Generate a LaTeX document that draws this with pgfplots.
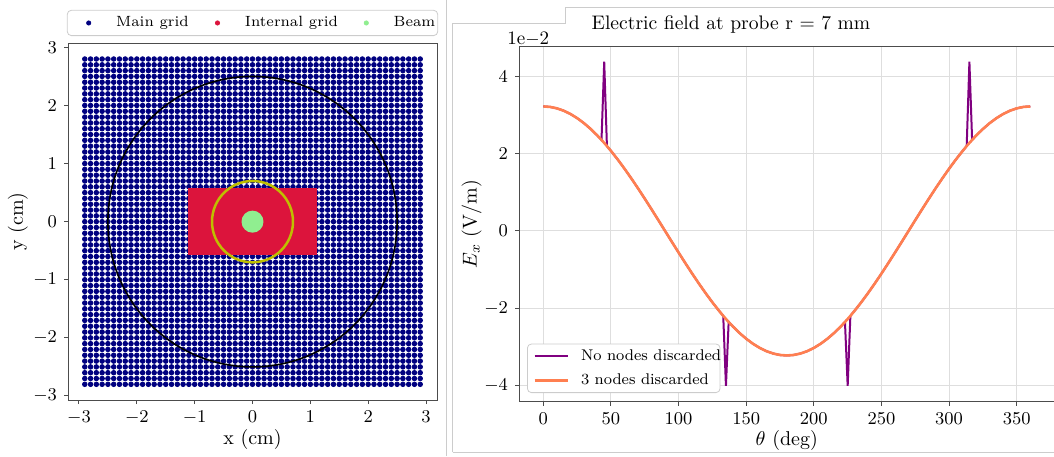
\documentclass[border=0pt]{standalone}
\usepackage{pgfplots}
\pgfplotsset{compat=1.18}
\usepackage{pgfplotstable}

\definecolor{navyc}{HTML}{000080}
\definecolor{crimsonc}{HTML}{DC143C}
\definecolor{beamc}{HTML}{90EE90}
\definecolor{probec}{HTML}{BFBF00}
\definecolor{purplec}{HTML}{800080}
\definecolor{coralc}{HTML}{FF7F50}

% x positions of the main grid nodes (cm)
\pgfplotstableread{
x
-2.9
-2.8
-2.7
-2.6
-2.5
-2.4
-2.3
-2.2
-2.1
-2.0
-1.9
-1.8
-1.7
-1.6
-1.5
-1.4
-1.3
-1.2
-1.1
-1.0
-0.9
-0.8
-0.7
-0.6
-0.5
-0.4
-0.3
-0.2
-0.1
0.0
0.1
0.2
0.3
0.4
0.5
0.6
0.7
0.8
0.9
1.0
1.1
1.2
1.3
1.4
1.5
1.6
1.7
1.8
1.9
2.0
2.1
2.2
2.3
2.4
2.5
2.6
2.7
2.8
2.9
}\mainx

% Electric field at probe (units of 1e-2 V/m)
\pgfplotstableread{
theta nod dis
0 3.230 3.230
5 3.218 3.218
10 3.181 3.181
15 3.120 3.120
20 3.035 3.035
25 2.927 2.927
30 2.797 2.797
35 2.646 2.646
40 2.474 2.474
43 2.362 2.362
45 4.390 2.284
47 2.203 2.203
50 2.076 2.076
55 1.853 1.853
60 1.615 1.615
65 1.365 1.365
70 1.105 1.105
75 0.836 0.836
80 0.561 0.561
85 0.282 0.282
90 0.000 0.000
95 -0.282 -0.282
100 -0.561 -0.561
105 -0.836 -0.836
110 -1.105 -1.105
115 -1.365 -1.365
120 -1.615 -1.615
125 -1.853 -1.853
130 -2.076 -2.076
133 -2.203 -2.203
135 -4.020 -2.284
137 -2.362 -2.362
140 -2.474 -2.474
145 -2.646 -2.646
150 -2.797 -2.797
155 -2.927 -2.927
160 -3.035 -3.035
165 -3.120 -3.120
170 -3.181 -3.181
175 -3.218 -3.218
180 -3.230 -3.230
185 -3.218 -3.218
190 -3.181 -3.181
195 -3.120 -3.120
200 -3.035 -3.035
205 -2.927 -2.927
210 -2.797 -2.797
215 -2.646 -2.646
220 -2.474 -2.474
223 -2.362 -2.362
225 -4.020 -2.284
227 -2.203 -2.203
230 -2.076 -2.076
235 -1.853 -1.853
240 -1.615 -1.615
245 -1.365 -1.365
250 -1.105 -1.105
255 -0.836 -0.836
260 -0.561 -0.561
265 -0.282 -0.282
270 0.000 0.000
275 0.282 0.282
280 0.561 0.561
285 0.836 0.836
290 1.105 1.105
295 1.365 1.365
300 1.615 1.615
305 1.853 1.853
310 2.076 2.076
313 2.203 2.203
315 4.390 2.284
317 2.362 2.362
320 2.474 2.474
325 2.646 2.646
330 2.797 2.797
335 2.927 2.927
340 3.035 3.035
345 3.120 3.120
350 3.181 3.181
355 3.218 3.218
360 3.230 3.230
}\efield

\begin{document}
\begin{tikzpicture}
\useasboundingbox (0pt,0pt) rectangle (527pt,228pt);
% screenshot panel frames
\draw[black!20, line width=0.5pt] (223.35pt,0pt) -- (223.35pt,228pt);
\draw[black!20, line width=0.5pt] (226.35pt,2pt) -- (226.35pt,216pt) -- (282.5pt,216pt) -- (282.5pt,224pt) -- (530pt,224pt);
\draw[black!20, line width=0.5pt] (226.35pt,2pt) -- (530pt,2pt);

% ---------------- left panel ----------------
\begin{axis}[
  at={(34pt,28pt)}, anchor=south west, scale only axis,
  width=184.5pt, height=178.35pt,
  xmin=-3.19, xmax=3.19, ymin=-3.07, ymax=3.07,
  xtick={-3,-2,-1,0,1,2,3}, ytick={-3,-2,-1,0,1,2,3},
  tick align=outside, major tick length=2pt,
  xtick pos=left, ytick pos=left,
  clip marker paths=true,
  axis line style={black!70, line width=0.5pt},
  tick style={black!70, line width=0.5pt},
  tick label style={font=\fontsize{9.5}{11}\selectfont},
  label style={font=\fontsize{10}{12}\selectfont},
  xlabel={x (cm)}, ylabel={y (cm)},
  xlabel style={at={(axis description cs:0.5,-0.112)}, anchor=center},
  ylabel style={at={(axis description cs:-0.1355,0.5)}, anchor=center},
  legend columns=3, legend cell align=left,
  legend style={at={(0.5,1)}, anchor=south, yshift=3.65pt,
    draw=black!20, rounded corners=2pt, fill=white,
    inner xsep=0pt, inner ysep=3pt, nodes={inner sep=0pt},
    column sep=0pt, font=\fontsize{7.4}{8.5}\selectfont},
  legend image code/.code={\path (-10.5pt,0pt) (13.5pt,0pt); \fill[#1] (0pt,0pt) circle (1.05pt);},
]
\pgfplotsinvokeforeach{-2.8,-2.7,-2.6,-2.5,-2.4,-2.3,-2.2,-2.1,-2.0,-1.9,-1.8,-1.7,-1.6,-1.5,-1.4,-1.3,-1.2,-1.1,-1.0,-0.9,-0.8,-0.7,-0.6,-0.5,-0.4,-0.3,-0.2,-0.1,0.0,0.1,0.2,0.3,0.4,0.5,0.6,0.7,0.8,0.9,1.0,1.1,1.2,1.3,1.4,1.5,1.6,1.7,1.8,1.9,2.0,2.1,2.2,2.3,2.4,2.5,2.6,2.7,2.8}{
  \addplot[only marks, mark=*, mark size=1.15pt, navyc, forget plot] table[x index=0, y index=0, y expr=#1] {\mainx};
}
% internal grid region
\addplot[draw=none, fill=crimsonc, forget plot] coordinates {(-1.11,-0.58) (1.11,-0.58) (1.11,0.58) (-1.11,0.58)} -- cycle;
% boundary circle r = 2.5 cm, probe r = 0.7 cm, beam r = 0.19 cm
\draw[black, line width=0.8pt] (axis cs:0,0) ellipse [x radius=2.5, y radius=2.5];
\draw[probec, line width=1.25pt] (axis cs:0,0) ellipse [x radius=0.7, y radius=0.7];
\fill[beamc] (axis cs:0,0) ellipse [x radius=0.19, y radius=0.19];
\addlegendimage{navyc}
\addlegendentry{\makebox[40pt][l]{Main grid}}
\addlegendimage{crimsonc}
\addlegendentry{\makebox[50pt][l]{Internal grid}}
\addlegendimage{beamc}
\addlegendentry{\makebox[22pt][l]{Beam}}
\end{axis}

% ---------------- right panel ----------------
\begin{axis}[
  at={(259.5pt,27.15pt)}, anchor=south west, scale only axis,
  width=267.8pt, height=177.5pt,
  xmin=-18, xmax=378, ymin=-4.43, ymax=4.78,
  xtick={0,50,100,150,200,250,300,350}, ytick={-4,-2,0,2,4},
  tick align=outside, major tick length=2pt,
  xtick pos=left, ytick pos=left,
  grid=major, major grid style={black!13, line width=0.5pt},
  axis line style={black!70, line width=0.5pt},
  tick style={black!70, line width=0.5pt},
  tick label style={font=\fontsize{9.5}{11}\selectfont},
  label style={font=\fontsize{10}{12}\selectfont},
  xlabel={$\theta$ (deg)}, ylabel={$E_x$ (V/m)},
  xlabel style={at={(axis description cs:0.5,-0.108)}, anchor=center},
  ylabel style={at={(axis description cs:-0.0883,0.5)}, anchor=center},
  legend cell align=left,
  legend style={at={(0.015,0.0245)}, anchor=south west,
    draw=black!20, rounded corners=2pt, fill=white,
    inner xsep=0pt, inner ysep=2.5pt, nodes={inner sep=0pt, text height=5.5pt, text depth=1.8pt},
    row sep=4.7pt, font=\fontsize{7.75}{9}\selectfont},
  legend image code/.code={\draw[#1] (3pt,0pt) -- (19.5pt,0pt); \path (0pt,0pt) (25.5pt,0pt);},
]
\addplot[purplec, line width=1pt] table[x=theta, y=nod] {\efield};
\addlegendentry{\makebox[69.5pt][l]{No nodes discarded}}
\addplot[coralc, line width=1.3pt] table[x=theta, y=dis] {\efield};
\addlegendentry{\makebox[69.5pt][l]{3 nodes discarded}}
\end{axis}
\node[anchor=base west, inner sep=0pt, font=\fontsize{9.5}{11}\selectfont] at (253.5pt,205.5pt) {1e$-$2};
\node[anchor=base, inner sep=0pt, font=\fontsize{9.8}{12}\selectfont] at (365.5pt,213pt) {Electric field at probe r = 7 mm};
\end{tikzpicture}
\end{document}
